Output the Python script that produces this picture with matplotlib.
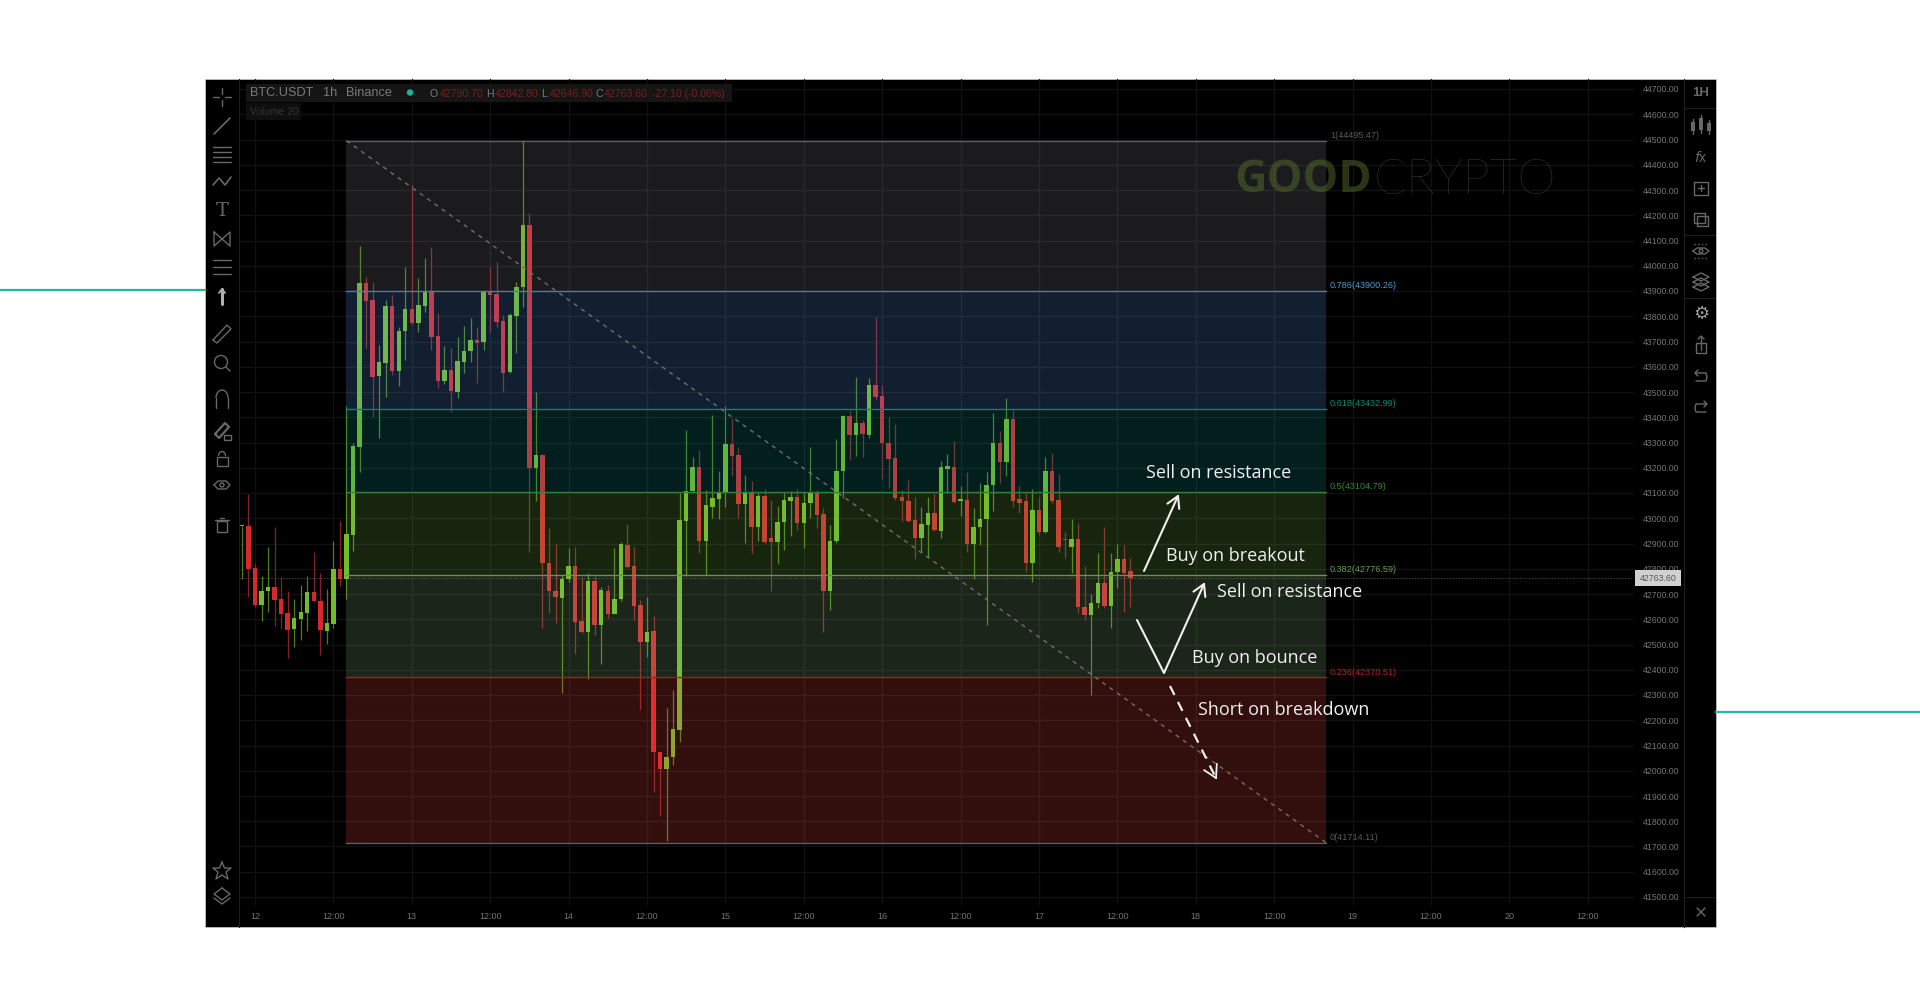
import numpy as np
import matplotlib
matplotlib.use("Agg")
import matplotlib.pyplot as plt
from matplotlib.patches import Rectangle, Circle

# ---------- data ----------
first_hour = -2   # hours relative to day "12" 00:00
opens = [42968,42971,42801,42657,42710,42728,42679,42625,42560,42600,
         42626,42707,42674,42555,42582,42798,42761,42935,43283,43933,
         43864,43563,43616,43840,43584,43740,43827,43774,43840,43899,
         43722,43542,43587,43501,43619,43661,43706,43697,43897,43888,
         43781,43579,43801,43914,44161,43198,43250,42822,42710,42684,
         42758,42809,42595,42551,42750,42579,42712,42619,42679,42896,
         42809,42657,42509,42553,42076,42006,42056,42162,42991,43106,
         43202,42908,43046,43075,43099,43295,43251,43057,43099,42965,
         43089,42921,42905,42984,43070,43086,42980,43060,43099,43017,
         42712,42908,43189,43403,43331,43379,43330,43529,43485,43297,
         43238,43083,43070,42994,42921,42974,43020,42951,43197,43202,
         43068,43073,42899,42965,42999,43132,43297,43223,43392,43075,
         43070,42822,43031,42945,43189,43073,42917,42885,42918,42650,
         42617,42664,42745,42653,42786,42838,42790.7]
closes = [42971,42798,42657,42712,42728,42677,42622,42558,42604,42629,
          42707,42671,42556,42584,42798,42761,42938,43286,43933,43862,
          43561,43619,43840,43584,43743,43827,43772,43843,43901,43719,
          43545,43587,43505,43621,43664,43706,43693,43897,43884,43777,
          43576,43803,43917,44161,43198,43250,42822,42710,42687,42758,
          42809,42591,42551,42750,42579,42714,42620,42679,42898,42806,
          42654,42509,42550,42075,42006,42056,42164,42993,43106,43202,
          42910,43053,43079,43103,43295,43248,43057,43099,42967,43089,
          42904,42905,42987,43073,43086,42980,43062,43099,43013,42710,
          42908,43186,43403,43331,43379,43333,43529,43482,43297,43234,
          43079,43068,42988,42921,42976,43020,42954,43202,43205,43066,
          43075,42899,42967,42999,43132,43297,43223,43392,43068,43062,
          42822,43031,42945,43189,43068,42885,42912,42917,42648,42617,
          42666,42745,42653,42789,42838,42785,42763.6]
highs = [42971,43096,42822,42772,42888,42964,42766,42710,42679,42736,
         42772,42865,42782,42719,42908,42991,43444,43299,44078,43957,
         43937,43686,43864,43884,43759,43994,44320,43950,44029,44073,
         43811,43682,43673,43719,43761,43792,43759,43904,43996,44013,
         43805,43811,43937,44500,44207,43501,43255,42960,42898,42776,
         42881,42885,42769,42782,42772,42729,42736,42881,42904,42978,
         42885,42677,42687,42613,42076,42248,42320,43099,43349,43244,
         43270,43112,43409,43189,43445,43396,43284,43172,43149,43099,
         43115,43073,43049,43099,43106,43115,43099,43284,43112,43040,
         42974,43313,43409,43429,43561,43390,43555,43799,43528,43400,
         43374,43112,43152,43086,43046,43086,43099,43225,43255,43304,
         43128,43185,43040,43141,43185,43416,43347,43475,43429,43126,
         43099,43115,43086,43244,43260,43176,42947,42999,42980,42809,
         42700,42864,42967,42864,42897,42895,42842.8]
lows = [42758,42690,42650,42595,42630,42575,42560,42447,42492,42516,
        42555,42670,42459,42502,42564,42732,42679,42872,43185,43673,
        43400,43316,43479,43567,43524,43627,43765,43739,43818,43666,
        43514,43532,43422,43475,43576,43620,43534,43666,43739,43759,
        43501,43574,43656,43838,42868,43070,42564,42624,42584,42307,
        42749,42463,42545,42362,42538,42423,42604,42637,42674,42802,
        42597,42241,42450,41914,41821,41722,42023,42112,42773,43100,
        42864,42776,43000,42996,43046,43168,43000,42901,42864,42908,
        42901,42710,42819,42875,42928,42954,42881,43000,42961,42551,
        42637,42901,43079,43231,43248,43242,43317,43469,43156,43119,
        43073,42991,42987,42838,42868,42848,42951,42921,43099,43060,
        43007,42868,42759,42895,42578,43027,43139,43168,43046,43020,
        42789,42749,42934,42941,43062,42868,42842,42782,42624,42598,
        42301,42644,42644,42565,42723,42627,42646.9]

fib_ratios = ["1", "0.786", "0.618", "0.5", "0.382", "0.236", "0"]
fib_prices = [44495.47, 43900.26, 43432.99, 43104.79, 42776.59, 42370.51, 41714.11]
fib_lines = ["#5e5e62", "#4080b4", "#0c8274", "#347f38", "#6f8c62", "#98261d", "#5e5e62"]
fib_text = ["#5a5a5a", "#4a9ad8", "#0a8a70", "#2e8a2e", "#6a9a50", "#b02020", "#5a5a5a"]
band_colors = ["#8c8c96", "#5b9ff1", "#0fa09b", "#78be4b", "#8cbe82", "#ff4b41"]
fib_start, fib_end = 14, 164

price_ticks = list(range(41500, 44800, 100))
time_ticks = list(range(0, 216, 12))
time_labels = ["12","12:00","13","12:00","14","12:00","15","12:00","16","12:00",
               "17","12:00","18","12:00","19","12:00","20","12:00"]
last_price = 42763.60

# ---------- layout ----------
W, H = 1920, 1008
fig = plt.figure(figsize=(W/100, H/100), dpi=100, facecolor="white")
plt.rcParams["font.family"] = ["Liberation Sans", "DejaVu Sans"]

bg = fig.add_axes([0, 0, 1, 1], zorder=0)
bg.set_xlim(0, W); bg.set_ylim(H, 0); bg.axis("off")
bg.add_patch(Rectangle((204.5, 79), 1511, 848, fc="black", ec="#cccccc", lw=0.5))
bg.plot([0, 205], [290, 290], color="#22b8a5", lw=1.6)
bg.plot([1716, 1920], [711.5, 711.5], color="#22b8a5", lw=1.6)

L, R, T, B = 239, 1634, 79, 905
ax = fig.add_axes([L/W, 1-B/H, (R-L)/W, (B-T)/H], zorder=1)
ax.patch.set_alpha(0)
ax.set_xlim((L-255)/6.533, (R-255)/6.533)
ax.set_ylim(44700-(B-89)/0.2525, 44700-(T-89)/0.2525)
for s in ax.spines.values():
    s.set_visible(False)

ax.set_yticks(price_ticks)
ax.set_yticklabels([f"{p:.2f}" for p in price_ticks])
ax.yaxis.tick_right()
ax.set_xticks(time_ticks)
ax.set_xticklabels(time_labels)
ax.tick_params(axis="y", length=0, pad=6, labelsize=6.3, labelcolor="#747474")
ax.tick_params(axis="x", length=0, pad=5, labelsize=6.5, labelcolor="#747474")
ax.grid(True, color="#111111", lw=0.9)
ax.set_axisbelow(True)

# candles
hours = first_hour + np.arange(len(opens))
o, c, h_, l_ = map(np.array, (opens, closes, highs, lows))
up = c >= o
cols = np.where(up, "#72bd26", "#d6282d")
wick_cols = np.where(up, "#4a8019", "#862026")
ax.vlines(hours, l_, h_, colors=wick_cols, lw=0.9, zorder=3)
ax.bar(hours, np.maximum(np.abs(c-o), 4), bottom=np.minimum(o, c), width=0.68,
       color=cols, lw=0, zorder=4)

# current price line
ax.axhline(last_price, color="#444444", lw=0.7, ls=(0, (1.5, 1.5)), zorder=2)

# fib bands, drawn over the candles
for i, col in enumerate(band_colors):
    ax.fill_between([fib_start, fib_end], fib_prices[i+1], fib_prices[i],
                    color=col, alpha=0.2, lw=0, zorder=5)
for r, p, lc, tc in zip(fib_ratios, fib_prices, fib_lines, fib_text):
    ax.plot([fib_start, fib_end], [p, p], color=lc, lw=1.0, zorder=6)
    ax.annotate(f"{r}({p:.2f})", (fib_end, p), xytext=(2.5, 0.5), textcoords="offset points",
                color=tc, fontsize=6.6, va="bottom", ha="left", zorder=7)
ax.plot([fib_start, fib_end], [fib_prices[0], fib_prices[-1]], color="#707070", lw=1.0,
        ls=(0, (3, 3.5)), zorder=6)

# ---------- overlay ----------
ov = fig.add_axes([0, 0, 1, 1], zorder=2)
ov.patch.set_alpha(0)
ov.set_xlim(0, W); ov.set_ylim(H, 0); ov.axis("off")

# price tag
ov.add_patch(Rectangle((1635, 570), 46, 16, fc="#d0d0d0", ec="none"))
ov.text(1658, 578.5, f"{last_price:.2f}", color="#555555", fontsize=6.3, ha="center", va="center")

# header
ov.add_patch(Rectangle((246, 84), 486, 18, fc="#151515", ec="none"))
ov.add_patch(Rectangle((246, 103), 55, 17, fc="#0f0f0f", ec="none"))
hdr = "#7a7a7a"
ov.text(250, 93, "BTC.USDT", color=hdr, fontsize=9.2, va="center")
ov.text(323, 93, "1h", color=hdr, fontsize=9.2, va="center")
ov.text(346, 93, "Binance", color=hdr, fontsize=9.2, va="center")
ov.add_patch(Circle((410, 92.5), 3.2, fc="#14b8a0", ec="none"))
red = "#7e1c1c"
for lx, lt, vx, vt in [(430, "O", 440, "42790.70"), (486, "H", 495, "42842.80"),
                       (541, "L", 550, "42646.90"), (595, "C", 604, "42763.60")]:
    ov.text(lx, 94, lt, color=hdr, fontsize=7.6, va="center")
    ov.text(vx, 94, vt, color=red, fontsize=7.6, va="center")
ov.text(652, 94, "-27.10 (-0.06%)", color=red, fontsize=7.6, va="center")
ov.text(250, 112, "Volume 20", color="#333333", fontsize=7.4, va="center")

# watermark
ov.text(1234, 181, "GOOD", color="#556b2a", alpha=0.5, fontsize=32.5, fontweight="bold",
        family="Open Sans", va="center")
ov.text(1374, 181, "CRYPTO", color="#3a3a3a", fontsize=35, family="Lato",
        fontweight="light", va="center")

# chart annotations
wht = "#f0f0f0"
for tx, ty, s in [(1146, 473, "Sell on resistance"), (1166, 556, "Buy on breakout"),
                  (1217, 592, "Sell on resistance"), (1192, 658, "Buy on bounce"),
                  (1198, 710, "Short on breakdown")]:
    ov.text(tx, ty, s, color=wht, fontsize=13, family="Open Sans", fontweight="medium", va="center")

def head(x0, y0, x1, y1, size=13, **kw):
    a = np.arctan2(y1-y0, x1-x0)
    for d in (2.62, -2.62):
        ov.plot([x1, x1+size*np.cos(a+d)], [y1, y1+size*np.sin(a+d)], **kw)

st = dict(color=wht, lw=1.5, solid_capstyle="round")
ov.plot([1144, 1178], [571, 496], **st); head(1144, 571, 1178, 496, **st)
ov.plot([1137, 1164, 1204], [620, 673, 584], **st); head(1164, 673, 1204, 584, **st)
ds = dict(color=wht, lw=1.6, ls=(0, (4.5, 3.5)))
ov.plot([1170, 1216], [686, 778], **ds)
head(1170, 686, 1216, 778, size=14, color=wht, lw=1.3)

# toolbars
sep = "#1e1e1e"
ov.plot([239, 239], [79, 927], color=sep, lw=0.8)
ov.plot([1684, 1684], [79, 927], color=sep, lw=0.8)
for yy in (108, 235, 298):
    ov.plot([1684, 1715], [yy, yy], color=sep, lw=0.8)
ov.plot([1684, 1715], [897, 897], color=sep, lw=0.8)

ic = "#686868"
kw = dict(color=ic, lw=1.0, solid_capstyle="round")
def pl(cx, cy, pts, **over):
    p = np.array(pts, float)
    d = dict(kw); d.update(over)
    ov.plot(cx+p[:, 0], cy+p[:, 1], **d)
def circ(cx, cy, r):
    ov.add_patch(Circle((cx, cy), r, fc="none", ec=ic, lw=1.0))
def box(cx, cy, w, h_):
    ov.add_patch(Rectangle((cx-w/2, cy-h_/2), w, h_, fc="none", ec=ic, lw=1.0))

x = 222
for a, b in [((-9, 0), (-3, 0)), ((3, 0), (9, 0)), ((0, -9), (0, -3)), ((0, 3), (0, 9))]:
    pl(x, 97, [a, b])
pl(x, 126, [(-8, 8), (8, -8)], lw=1.2)
for dy in (-7, -2, 3, 8):
    pl(x, 154, [(-9, dy), (9, dy)])
pl(x, 182, [(-9, 3), (-3, -4), (3, 3), (9, -5)], lw=1.2)
ov.text(x, 211, "T", color=ic, fontsize=14, family="DejaVu Serif", ha="center", va="center")
pl(x, 239, [(-8, -7), (8, 7), (8, -7), (-8, 7), (-8, -7)])
for dy in (-7, 0, 7):
    pl(x, 267, [(-9, dy), (9, dy)])
pl(x, 296, [(0, 8), (0, -7)], lw=2.2, color="#b0b0b0")
pl(x, 296, [(-3, -3), (0, -7), (3, -3)], lw=1.3, color="#b0b0b0")
pl(x, 334, [(-9, 6), (5, -9), (9, -5), (-5, 9), (-9, 6)])
circ(x-1, 362, 6.5); pl(x, 362, [(4, 5), (8, 9)])
pl(x, 400, [(-6, 8), (-6, -2)]); pl(x, 400, [(6, 8), (6, -2)])
ov.add_patch(matplotlib.patches.Arc((x, 398), 12, 16, theta1=180, theta2=360, ec=ic, lw=1.0))
pl(x, 430, [(-7, 4), (3, -7), (7, -3), (-3, 8), (-7, 4)], lw=1.6)
box(x+5, 437, 7, 5)
box(x, 461, 11, 9)
ov.add_patch(matplotlib.patches.Arc((x, 456), 7, 9, theta1=180, theta2=360, ec=ic, lw=1.0))
pl(x, 485, [(-8, 0), (-4, -4), (4, -4), (8, 0), (4, 4), (-4, 4), (-8, 0)]); circ(x, 485, 2)
box(x, 526, 10, 11); pl(x, 526, [(-7, -6), (7, -6)]); pl(x, 526, [(-2, -8), (2, -8)])
pl(x, 871, [(0, -9), (2.5, -3), (9, -3), (4, 1), (6, 8), (0, 4), (-6, 8), (-4, 1), (-9, -3), (-2.5, -3), (0, -9)])
pl(x, 896, [(0, -8), (8, -2), (0, 4), (-8, -2), (0, -8)])
pl(x, 896, [(-8, 2), (0, 8), (8, 2)])

x = 1701
ov.text(x, 93.5, "1H", color=ic, fontsize=9.5, fontweight="bold", ha="center", va="center")
for dx, t, b in [(-8, -3, 6), (0, -7, 5), (8, -2, 6)]:
    ov.add_patch(Rectangle((x+dx-2, 125+t), 4, b-t, fc=ic, ec="none"))
    pl(x+dx, 125, [(0, t-3), (0, b+3)])
ov.text(x, 157, "$f$x", color=ic, fontsize=10, ha="center", va="center")
box(x, 188, 14, 13); pl(x, 188, [(-3, 0), (3, 0)]); pl(x, 188, [(0, -3), (0, 3)])
box(x-1.5, 217.5, 11, 10); box(x+1.5, 221, 11, 10)
pl(x, 251, [(-8, 0), (-4, -3), (4, -3), (8, 0), (4, 3), (-4, 3), (-8, 0)]); circ(x, 251, 1.8)
pl(x, 244, [(-7, 0), (7, 0)], ls=":"); pl(x, 258, [(-7, 0), (7, 0)], ls=":")
for dy in (-5, 0, 5):
    pl(x, 282+dy, [(-8, 0), (0, -4), (8, 0), (0, 4), (-8, 0)])
ov.text(x, 314, "\u2699", color="#999999", fontsize=13, family="DejaVu Sans", ha="center", va="center")
box(x, 348, 10, 10); pl(x, 345, [(0, 5), (0, -9)]); pl(x, 345, [(-3, -6), (0, -9), (3, -6)])
pl(x, 377, [(-5, -4), (5, -4), (6, 0), (5, 4), (-5, 4)]); pl(x, 377, [(-3, -7), (-6, -4), (-3, -1)])
pl(x, 408, [(5, -4), (-5, -4), (-6, 0), (-5, 4), (5, 4)]); pl(x, 408, [(3, -7), (6, -4), (3, -1)])
pl(x, 912, [(-4, -4), (4, 4)]); pl(x, 912, [(-4, 4), (4, -4)])

fig.savefig("out.png", dpi=100, facecolor="white")
